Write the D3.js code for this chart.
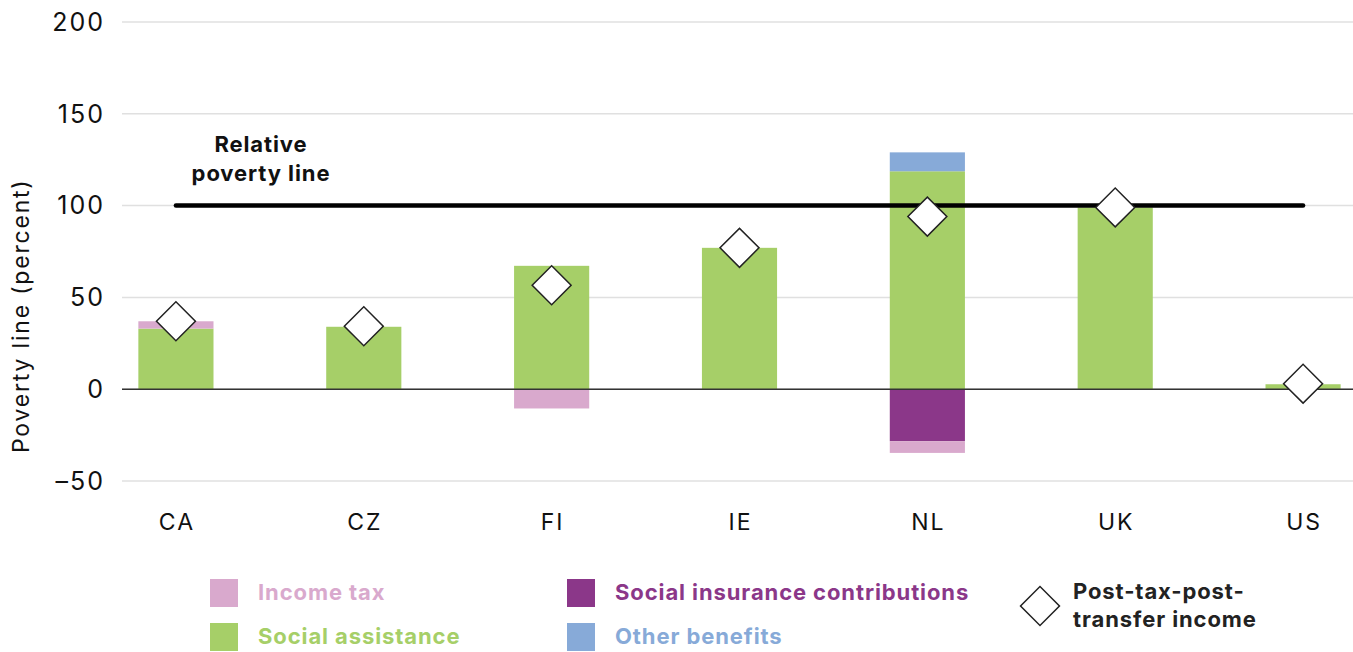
<!DOCTYPE html>
<html lang="en">
<head>
<meta charset="UTF-8">
<title>Poverty line chart</title>
<script src="https://d3js.org/d3.v7.min.js"></script>
<style>
  body { margin: 0; background: #fff; }
  svg text { font-family: Inter, "DejaVu Sans", sans-serif; }
</style>
</head>
<body>
<svg id="chart" width="1353" height="652"></svg>
<script>
// data
const categories = ['CA', 'CZ', 'FI', 'IE', 'NL', 'UK', 'US'];
const socialAssistance = [33, 34, 67.2, 77, 118.7, 99, 2.7];
const socialInsurance = [0, 0, 0, 0, -28.3, 0, 0];
const otherBenefits = [0, 0, 0, 0, 10.3, 0, 0];
const incomeTax = [4, 0, -10.5, 0, -6.4, 0, 0];
const postTaxIncome = [37, 34.3, 56.6, 77, 94, 99, 3];
const povertyLine = 100;
const yTicks = [-50, 0, 50, 100, 150, 200];

const series = [
  { key: 'socialAssistance', label: 'Social assistance', color: '#a6cf68', values: socialAssistance },
  { key: 'socialInsurance', label: 'Social insurance contributions', color: '#8b3789', values: socialInsurance },
  { key: 'otherBenefits', label: 'Other benefits', color: '#87aad8', values: otherBenefits },
  { key: 'incomeTax', label: 'Income tax', color: '#d9a9cd', values: incomeTax }
];

const W = 1353, H = 652;
const svg = d3.select('#chart');

const x = d3.scaleBand()
  .domain(categories)
  .range([82, 1397])
  .paddingInner(0.6)
  .paddingOuter(0.3);

const y = d3.scaleLinear().domain([-50, 200]).range([481, 22]);

// gridlines
svg.append('g')
  .selectAll('line')
  .data(yTicks)
  .join('line')
  .attr('x1', 122).attr('x2', W)
  .attr('y1', d => y(d)).attr('y2', d => y(d))
  .attr('stroke', '#e0e0e0')
  .attr('stroke-width', 1.5);

// y tick labels
svg.append('g')
  .selectAll('text')
  .data(yTicks)
  .join('text')
  .attr('x', 105)
  .attr('y', d => y(d))
  .attr('dy', '0.35em')
  .attr('text-anchor', 'end')
  .attr('font-size', 25)
  .attr('letter-spacing', 2)
  .attr('fill', '#111')
  .text(d => d < 0 ? '\u2013' + Math.abs(d) : d);

// y axis title
svg.append('text')
  .attr('transform', `translate(29,${y(40)}) rotate(-90)`)
  .attr('text-anchor', 'middle')
  .attr('font-size', 23)
  .attr('letter-spacing', 1.8)
  .attr('fill', '#111')
  .text('Poverty line (percent)');

// stacked bars
const table = categories.map((c, i) => {
  const row = { cat: c };
  series.forEach(s => { row[s.key] = s.values[i]; });
  return row;
});
const stack = d3.stack()
  .keys(series.map(s => s.key))
  .offset(d3.stackOffsetDiverging);
const stacked = stack(table);

svg.append('g')
  .selectAll('g')
  .data(stacked)
  .join('g')
  .attr('fill', (d, i) => series[i].color)
  .selectAll('rect')
  .data(d => d.filter(p => p[1] !== p[0]))
  .join('rect')
  .attr('x', d => x(d.data.cat))
  .attr('width', x.bandwidth())
  .attr('y', d => y(Math.max(d[0], d[1])))
  .attr('height', d => Math.abs(y(d[0]) - y(d[1])));

// zero line
svg.append('line')
  .attr('x1', 122).attr('x2', W)
  .attr('y1', y(0)).attr('y2', y(0))
  .attr('stroke', '#333')
  .attr('stroke-width', 1.5);

// poverty line
const cx = c => x(c) + x.bandwidth() / 2;
svg.append('line')
  .attr('x1', cx(categories[0]))
  .attr('x2', cx(categories[categories.length - 1]))
  .attr('y1', y(povertyLine)).attr('y2', y(povertyLine))
  .attr('stroke', '#000')
  .attr('stroke-width', 4.5)
  .attr('stroke-linecap', 'round');

svg.append('text')
  .attr('text-anchor', 'middle')
  .attr('font-size', 22)
  .attr('font-weight', 700)
  .attr('letter-spacing', 0.9)
  .attr('fill', '#111')
  .selectAll('tspan')
  .data(['Relative', 'poverty line'])
  .join('tspan')
  .attr('x', 261)
  .attr('y', (d, i) => 152 + i * 29)
  .text(d => d);

// diamonds
const diamond = d3.symbol().type(d3.symbolSquare).size(760);
svg.append('g')
  .selectAll('path')
  .data(postTaxIncome)
  .join('path')
  .attr('d', diamond)
  .attr('transform', (d, i) => `translate(${cx(categories[i])},${y(d)}) rotate(45)`)
  .attr('fill', '#fff')
  .attr('stroke', '#222')
  .attr('stroke-width', 1.5);

// x labels
svg.append('g')
  .selectAll('text')
  .data(categories)
  .join('text')
  .attr('x', d => cx(d) + 1)
  .attr('y', 522)
  .attr('dy', '0.35em')
  .attr('text-anchor', 'middle')
  .attr('font-size', 23)
  .attr('letter-spacing', 2)
  .attr('fill', '#111')
  .text(d => d);

// legend
const legendItems = [
  { s: series[3], x: 210, y: 579 },
  { s: series[1], x: 567, y: 579 },
  { s: series[0], x: 210, y: 623 },
  { s: series[2], x: 567, y: 623 }
];
const lg = svg.append('g')
  .selectAll('g')
  .data(legendItems)
  .join('g')
  .attr('transform', d => `translate(${d.x},${d.y})`);
lg.append('rect')
  .attr('width', 28).attr('height', 28)
  .attr('fill', d => d.s.color);
lg.append('text')
  .attr('x', 48).attr('y', 13)
  .attr('dy', '0.35em')
  .attr('font-size', 22)
  .attr('font-weight', 700)
  .attr('letter-spacing', 0.9)
  .attr('fill', d => d.s.color)
  .text(d => d.s.label);

svg.append('path')
  .attr('d', diamond)
  .attr('transform', 'translate(1040,606) rotate(45)')
  .attr('fill', '#fff')
  .attr('stroke', '#222')
  .attr('stroke-width', 1.5);
svg.append('text')
  .attr('font-size', 22)
  .attr('font-weight', 700)
  .attr('letter-spacing', 0.9)
  .attr('fill', '#222')
  .selectAll('tspan')
  .data(['Post-tax-post-', 'transfer income'])
  .join('tspan')
  .attr('x', 1073)
  .attr('y', (d, i) => 599 + i * 28)
  .text(d => d);
</script>
</body>
</html>
